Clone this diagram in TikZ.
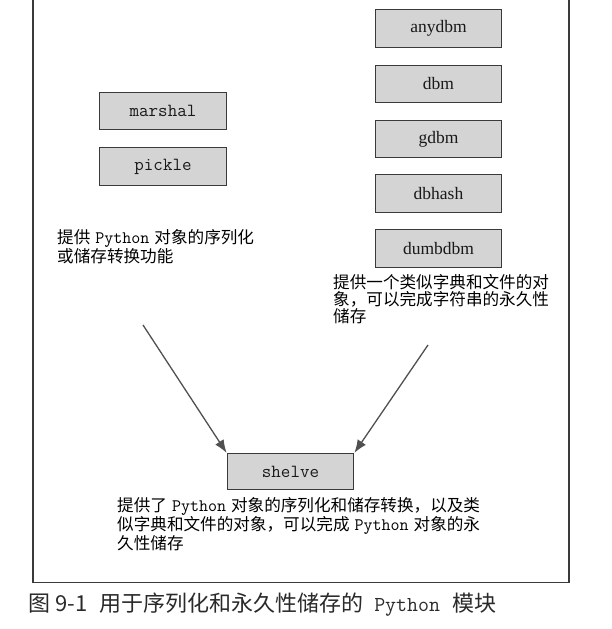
\documentclass[tikz,border=0pt]{standalone}
\usepackage{fontspec}
\setmainfont{Liberation Serif}
\newfontfamily\cjk{Noto Sans CJK SC}
\usetikzlibrary{arrows.meta}
\definecolor{boxfill}{HTML}{D4D4D4}
\definecolor{boxline}{HTML}{3A3A3A}
\definecolor{arrowgray}{HTML}{505050}
\definecolor{capgray}{HTML}{2A2A2A}
\newcommand{\pyname}{\hspace{5pt}{\ttfamily\fontsize{17.5}{17.5}\selectfont Python}\hspace{5pt}}
\begin{document}
\begin{tikzpicture}[x=1pt,y=-1pt,
  modbox/.style={draw=boxline, fill=boxfill, line width=1.3pt, minimum width=126.5pt, minimum height=37.5pt, inner sep=0pt, font=\ttfamily\fontsize{18.5}{18.5}\selectfont, text=black!90},
  dbbox/.style={modbox, font=\rmfamily\fontsize{17.5}{17.5}\selectfont},
  note/.style={anchor=north west, inner sep=0pt, align=left, font=\cjk\fontsize{16.6}{17}\selectfont},
  feed/.style={draw=arrowgray, line width=1.3pt, -{Latex[length=13pt,width=10pt]}}
]
\fill[white] (0,0) rectangle (611,629);
\useasboundingbox (0,0) rectangle (611,629);

% outer frame
\draw[boxline, line width=1.3pt] (33,-2) -- (33,582.5) -- (569,582.5) -- (569,-2);

% left column
\node[modbox] (marshal) at (163,111) {marshal};
\node[modbox] (pickle) at (163,166.5) {pickle};

% right column
\node[dbbox] (anydbm) at (438.5,28.5) {anydbm};
\node[dbbox] (dbm) at (438.5,84) {dbm};
\node[dbbox] (gdbm) at (438.5,139) {gdbm};
\node[dbbox] (dbhash) at (438.5,193.5) {dbhash};
\node[dbbox] (dumbdbm) at (438.5,248.5) {dumbdbm};

% shelve
\node[modbox, minimum height=36pt] (shelve) at (290.5,471.5) {shelve};

% notes
\node[note, font=\cjk\fontsize{16.6}{15.8}\selectfont] (leftnote) at (57,229.5)
  {提供\pyname 对象的序列化\\或储存转换功能};
\node[note] (rightnote) at (333,274)
  {提供一个类似字典和文件的对\\象，可以完成字符串的永久性\\储存};
\node[note] (bottomnote) at (117,497)
  {提供了\pyname 对象的序列化和储存转换，以及类\\似字典和文件的对象，可以完成\pyname 对象的永\\久性储存};

% arrows
\coordinate (lsrc) at (143,325);
\coordinate (rsrc) at (428,345);
\draw[feed] (lsrc) -- (shelve.north west);
\draw[feed] (rsrc) -- (shelve.north east);

% caption
\node[anchor=base west, inner sep=0pt, text=capgray, font=\cjk\fontsize{22}{22}\selectfont] (caption) at (28,611)
  {图\hspace{5pt}9-1\hspace{12pt}用于序列化和永久性储存的\hspace{11pt}{\ttfamily\fontsize{21.3}{21.3}\selectfont Python}\hspace{12pt}模块};
\end{tikzpicture}
\end{document}
